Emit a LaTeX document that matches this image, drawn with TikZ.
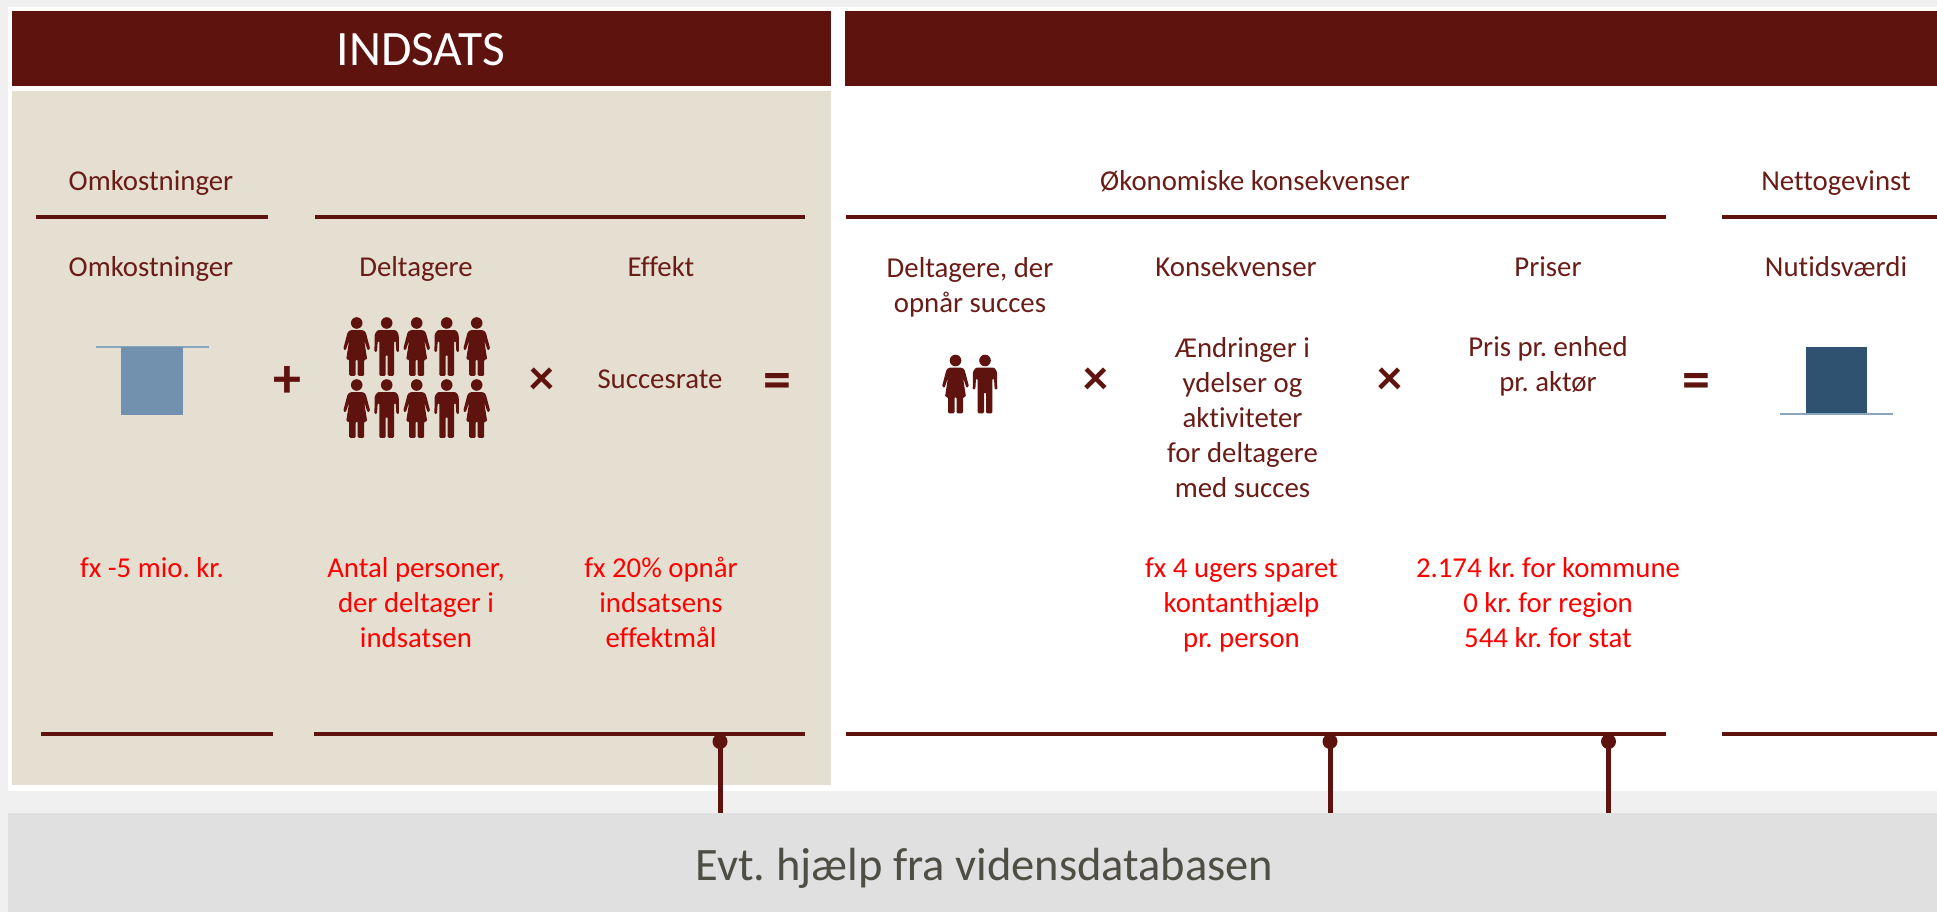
\documentclass[tikz,border=0pt]{standalone}
\usepackage{fontspec}
\setmainfont[Ligatures=NoCommon]{Carlito}
\frenchspacing
\definecolor{maroon}{HTML}{5F130E}
\definecolor{txtm}{HTML}{6A1C17}
\definecolor{beige}{HTML}{E5DFD1}
\definecolor{outerbg}{HTML}{F0F0F0}
\definecolor{barbg}{HTML}{E0E0E0}
\definecolor{barfg}{HTML}{4F4E44}
\definecolor{blueA}{HTML}{7291AE}
\definecolor{blueB}{HTML}{2E526F}
\definecolor{blueL}{HTML}{8AA6BF}
\tikzset{
  x=1pt,y=-1pt,
  lbl/.style={inner sep=0pt,outer sep=0pt,anchor=base,align=center,text=txtm,font=\fontsize{28.8}{35}\selectfont},
  redlbl/.style={lbl,text=red},
  opsym/.style={inner sep=0pt,outer sep=0pt,anchor=center,text=maroon,font=\fontsize{50}{50}\selectfont\bfseries},
  opbig/.style={opsym,font=\fontsize{56}{56}\selectfont\bfseries},
  rulebar/.style={draw=maroon,line width=4.4pt},
  dotn/.style={circle,fill=maroon,inner sep=0pt,outer sep=0pt,minimum size=15pt},
  stem/.style={draw=maroon,line width=5pt},
  pics/woman/.style={code={
    \fill[maroon] (0,6) circle[radius=5.8pt];
    \fill[maroon,rounded corners=1.2pt] (-6,13)--(6,13)--(9,15)--(13.5,32)--(11,33.5)--(7.5,23)--(10.5,42.5)--(7.5,42.5)--(7.5,58.8)--(1,58.8)--(1,42.5)--(-1,42.5)--(-1,58.8)--(-7.5,58.8)--(-7.5,42.5)--(-10.5,42.5)--(-7.5,23)--(-11,33.5)--(-13.5,32)--(-9,15)--cycle;
  }},
  pics/man/.style={code={
    \fill[maroon] (0,6) circle[radius=5.8pt];
    \fill[maroon,rounded corners=1.2pt] (-9,13)--(9,13)--(12,17)--(12.3,35)--(9.7,35)--(9,24)--(7.4,24)--(7.4,58.8)--(1,58.8)--(1,38)--(-1,38)--(-1,58.8)--(-7.4,58.8)--(-7.4,24)--(-9,24)--(-9.7,35)--(-12.3,35)--(-12,17)--cycle;
  }},
}
\begin{document}
\begin{tikzpicture}
\useasboundingbox (0,0) rectangle (1937,912);
\fill[outerbg] (0,0) rectangle (1937,912);
\fill[white] (8,7) rectangle (1937,791);
\fill[maroon] (12,11) rectangle (831,86);
\fill[maroon] (845,11) rectangle (1937,86);
\fill[beige] (12,91.5) rectangle (831,785);
\node[inner sep=0pt,minimum width=1929pt,minimum height=99pt,fill=barbg,anchor=north west] (bar) at (8,813) {};
\node[inner sep=0pt,anchor=base,text=white,font=\fontsize{49.5}{49.5}\selectfont] (title) at (421,66) {INDSATS};
\node[inner sep=0pt,anchor=base,text=barfg,font=\fontsize{46.5}{46.5}\selectfont] (bartxt) at (984.5,880) {Evt. hjælp fra vidensdatabasen};
% rules
\draw[rulebar] (35.5,217)--(268,217);
\draw[rulebar] (315,217)--(805,217);
\draw[rulebar] (846,217)--(1666,217);
\draw[rulebar] (1722,217)--(1937,217);
\draw[rulebar] (41,734)--(273,734);
\draw[rulebar] (314,734)--(805,734);
\draw[rulebar] (846,734)--(1666,734);
\draw[rulebar] (1722,734)--(1937,734);
% section labels
\node[lbl] (h1) at (151,190) {Omkostninger};
\node[lbl] (h2) at (1255,190) {Økonomiske konsekvenser};
\node[lbl] (h3) at (1836,190) {Nettogevinst};
% column labels
\node[lbl] (c1) at (151,276) {Omkostninger};
\node[lbl] (c2) at (416,276) {Deltagere};
\node[lbl] (c3) at (661,276) {Effekt};
\node[lbl] (c4) at (970,312) {Deltagere, der\\opnår succes};
\node[lbl] (c5) at (1236,276) {Konsekvenser};
\node[lbl] (c6) at (1548,276) {Priser};
\node[lbl] (c7) at (1836,276) {Nutidsværdi};
% mid row
\node[lbl] (m1) at (660,388) {Succesrate};
\node[lbl] (m2) at (1242.5,497) {Ændringer i\\ydelser og\\aktiviteter\\for deltagere\\med succes};
\node[lbl] (m3) at (1548,391.5) {Pris pr. enhed\\pr. aktør};
% operators
\node[opbig] (p1) at (287,382) {+};
\node[opsym] (x1) at (542,381) {×};
\node[opbig] (e1) at (777,386) {=};
\node[opsym] (x2) at (1096,381) {×};
\node[opsym] (x3) at (1390,381) {×};
\node[opbig] (e2) at (1696,386) {=};
% bars
\draw[blueL,line width=1.6pt] (96,347)--(208.5,347);
\fill[blueA] (121,347) rectangle (183,415);
\fill[blueB] (1805.5,346.5) rectangle (1867,413);
\draw[blueL,line width=1.6pt] (1779.5,414)--(1892.5,414);
% people
\foreach \r in {317,379}{
  \pic at (356.7,\r) {woman};
  \pic at (386.7,\r) {man};
  \pic at (416.7,\r) {woman};
  \pic at (446.7,\r) {man};
  \pic at (476.7,\r) {woman};
}
\pic at (955.5,354.5) {woman};
\pic at (985,354.5) {man};
% red labels
\node[redlbl] (r1) at (152,577.5) {fx -5 mio. kr.};
\node[redlbl] (r2) at (416,647.5) {Antal personer,\\der deltager i\\indsatsen};
\node[redlbl] (r3) at (661,647.5) {fx 20\% opnår\\indsatsens\\effektmål};
\node[redlbl] (r4) at (1241.5,647.5) {fx 4 ugers sparet\\kontanthjælp\\pr. person};
\node[redlbl] (r5) at (1548,647.5) {2.174 kr. for kommune\\0 kr. for region\\544 kr. for stat};
% connectors
\node[dotn] (d1) at (720,741.5) {};
\node[dotn] (d2) at (1330,741.5) {};
\node[dotn] (d3) at (1608.5,741.5) {};
\draw[stem] (d1.center)--(d1.center |- bar.north);
\draw[stem] (d2.center)--(d2.center |- bar.north);
\draw[stem] (d3.center)--(d3.center |- bar.north);
\end{tikzpicture}
\end{document}
